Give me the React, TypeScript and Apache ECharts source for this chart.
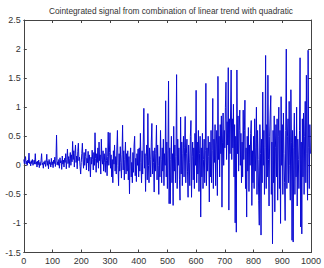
import React, { useEffect, useRef } from "react";
import * as echarts from "echarts";

const title = "Cointegrated signal from combination of linear trend with quadratic";
const xTicks = [0, 100, 200, 300, 400, 500, 600, 700, 800, 900, 1000];
const yTicks = [-1.5, -1, -0.5, 0, 0.5, 1, 1.5, 2, 2.5];
const sampleStep = 2;

// signal values, one every 2 samples (rows of 40 samples)
const signal = [
  0.1, 0.03, 0.08, 0.15, 0.02, 0.07, 0.0, 0.09, 0.04, 0.21, 0.03, 0.06, -0.01, 0.08, 0.03, 0.1, 0.0, 0.05, 0.09, 0.02,
  0.2, 0.02, 0.06, -0.03, 0.07, 0.01, 0.09, -0.04, 0.05, 0.0, 0.08, 0.2, 0.01, 0.04, -0.05, 0.06, 0.02, 0.08, -0.02, 0.05,
  0.19, 0.0, 0.07, -0.06, 0.1, 0.02, 0.05, -0.03, 0.12, 0.01, 0.06, -0.04, 0.09, 0.03, 0.14, -0.02, 0.08, 0.52, 0.01, 0.06,
  0.0, 0.1, -0.05, 0.13, 0.04, 0.08, -0.07, 0.16, 0.02, 0.09, -0.03, 0.12, 0.05, 0.2, -0.06, 0.1, 0.28, 0.03, 0.15, -0.04,
  0.12, 0.22, 0.0, 0.18, 0.06, 0.41, 0.1, 0.25, -0.03, 0.2, 0.35, 0.05, 0.16, -0.06, 0.24, 0.38, 0.08, 0.14, -0.02, -0.15,
  0.05, 0.2, 0.38, 0.1, -0.05, 0.22, 0.0, 0.15, 0.28, -0.08, 0.12, 0.04, 0.24, -0.1, 0.18, 0.06, -0.2, 0.14, 0.02, 0.26,
  0.1, -0.08, 0.22, 0.0, 0.56, 0.12, -0.12, 0.2, 0.05, 0.3, -0.05, 0.4, 0.08, 0.18, -0.15, 0.45, 0.1, 0.02, 0.25, -0.1,
  0.2, 0.05, -0.12, 0.3, 0.08, -0.18, 0.15, 0.57, 0.0, 0.22, 0.56, -0.05, 0.18, -0.2, 0.1, -0.3, 0.25, 0.02, 0.35, -0.1,
  0.15, -0.15, 0.28, 0.6, 0.0, -0.35, 0.2, -0.1, 0.32, 0.05, -0.22, 0.18, 0.69, -0.08, 0.25, -0.25, 0.1, 0.4, -0.15, 0.2,
  -0.1, 0.25, -0.25, 0.15, -0.49, 0.1, 0.3, -0.2, 0.05, -0.3, 0.22, -0.12, 0.35, 0.5, -0.18, 0.12, -0.28, 0.2, 0.0, 0.28,
  -0.2, 0.3, -0.1, 0.55, 0.05, -0.3, 0.25, -0.15, 0.4, 0.98, -0.05, 0.2, -0.45, 0.15, 0.35, -0.25, 0.89, 0.0, -0.3, 0.3,
  0.1, -0.2, 0.4, 0.72, -0.15, 0.25, 0.05, -0.46, 0.3, -0.1, 0.2, 0.69, -0.25, 0.35, 0.0, -0.5, 0.15, -0.2, 0.6, 0.1,
  -0.3, 0.3, -0.1, 0.45, -0.35, 0.2, 0.0, 1.11, -0.2, 0.4, -0.4, 0.25, 1.45, -0.66, 0.3, -0.66, 0.1, 0.5, -0.3, 0.2,
  -0.69, 0.67, -0.1, 0.35, -0.3, 0.15, 1.56, -0.4, 0.45, 0.0, 0.3, -0.25, -0.6, 0.83, -0.15, 0.4, -0.35, 0.2, 0.5, -0.2,
  0.3, 0.84, -0.3, 0.2, 0.45, -0.1, -0.55, 0.35, 0.05, -0.35, 0.5, 0.77, -0.55, 0.15, 0.4, -0.25, 0.3, -0.4, 0.55, 0.0,
  1.29, -0.3, 0.4, -0.15, 0.6, -0.45, 0.2, 0.5, -0.89, 0.3, -0.2, 0.55, -0.4, 0.1, 0.45, -0.3, 0.25, 1.41, -0.35, 0.3,
  -0.1, 0.5, 0.15, -0.63, 0.4, -0.2, 0.6, -0.3, 0.25, 1.15, -0.4, 0.45, 0.05, 0.7, -0.35, 0.35, 0.6, -0.52, 1.53, 0.1,
  0.5, -0.2, 0.7, 0.2, 0.85, -0.72, 0.4, 0.9, 0.0, 0.6, 0.3, 1.0, 1.43, 0.1, 0.75, 0.35, 1.68, -0.77, 0.8, 0.2,
  0.9, 1.64, 0.1, 0.8, 0.3, 1.05, -0.2, 0.7, -0.99, 0.5, -1.15, 1.64, 0.2, 0.85, -0.1, 0.6, 0.95, 0.0, 0.55, -0.3,
  0.4, -0.2, 0.95, 0.1, 0.6, 1.12, -0.4, 0.3, -0.89, 0.5, -0.1, 0.65, -0.45, 0.35, 0.0, 0.55, 0.77, -0.69, 0.25, -0.3,
  0.5, -0.4, 0.8, -0.1, 0.3, 1.0, -0.5, 0.6, 0.1, -0.6, -1.03, 0.7, 0.2, -1.2, 0.45, -0.3, 1.26, 0.0, 0.6, -0.5,
  0.3, 1.89, -0.4, 0.7, -0.2, 1.55, 0.1, -0.7, 0.5, 0.9, 1.2, -0.5, 0.4, -1.35, 0.6, -0.3, 0.85, -0.8, 0.3, 0.7,
  -0.2, 0.8, -0.6, 0.5, 1.0, -0.4, 0.6, -1.0, 1.18, 0.0, 0.7, -0.5, 0.9, 0.2, -0.3, -0.95, 0.6, 2.0, -0.4, 0.5,
  0.8, -0.3, 1.1, 0.0, -0.6, 1.3, 0.4, -1.29, 0.6, -1.32, 0.3, 0.9, -0.5, 0.5, -0.2, 1.0, -0.7, 0.45, 0.1, -0.4,
  0.6, 1.85, -1.06, 0.4, -1.18, 0.8, -0.2, 0.9, -0.5, 0.5, 1.1, -0.3, 1.55, 0.2, -0.6, 1.98, 0.3, -0.4, 0.7, 0.2,
];

const axisColor = "#444";
const labelColor = "#333";
const lineColor = "#0a0ad2";
const font = "Liberation Sans, Arial, sans-serif";

export default function App() {
  const ref = useRef<HTMLDivElement>(null);
  useEffect(() => {
    document.body.style.margin = "0";
    const chart = echarts.init(ref.current!, null, { renderer: "svg" });
    const data = signal.map((v, i) => [i * sampleStep, v]);
    const baseX = {
      type: "value" as const,
      min: xTicks[0],
      max: xTicks[xTicks.length - 1],
      interval: 100,
      splitLine: { show: false },
      axisLine: { show: true, onZero: false, lineStyle: { color: axisColor, width: 1 } },
      axisTick: { show: true, inside: true, length: 3, lineStyle: { color: axisColor } },
    };
    const baseY = {
      type: "value" as const,
      min: yTicks[0],
      max: yTicks[yTicks.length - 1],
      interval: 0.5,
      splitLine: { show: false },
      axisLine: { show: true, onZero: false, lineStyle: { color: axisColor, width: 1 } },
      axisTick: { show: true, inside: true, length: 3, lineStyle: { color: axisColor } },
    };
    chart.setOption({
      animation: false,
      backgroundColor: "#fff",
      graphic: [
        {
          type: "text",
          x: 171,
          y: 11,
          style: {
            text: title,
            textAlign: "center",
            textVerticalAlign: "middle",
            align: "center",
            verticalAlign: "middle",
            fontSize: 8.3,
            fontFamily: font,
            fill: labelColor,
          },
        },
      ],
      grid: { left: 23.8, right: 6, top: 20, bottom: 15.5 },
      xAxis: [
        {
          ...baseX,
          position: "bottom",
          axisLabel: {
            show: true,
            fontSize: 9,
            color: labelColor,
            fontFamily: font,
            margin: 4,
            formatter: (v: number) => String(v),
          },
        },
        { ...baseX, position: "top", axisLabel: { show: false } },
      ],
      yAxis: [
        {
          ...baseY,
          position: "left",
          axisLabel: {
            show: true,
            fontSize: 9,
            color: labelColor,
            fontFamily: font,
            margin: 3,
            formatter: (v: number) => String(v),
          },
        },
        { ...baseY, position: "right", axisLabel: { show: false } },
      ],
      series: [
        {
          type: "line",
          data,
          xAxisIndex: 0,
          yAxisIndex: 0,
          showSymbol: false,
          symbol: "none",
          lineStyle: { color: lineColor, width: 1 },
        },
      ],
    });
    return () => chart.dispose();
  }, []);
  return <div ref={ref} style={{ width: 324, height: 268 }} />;
}
